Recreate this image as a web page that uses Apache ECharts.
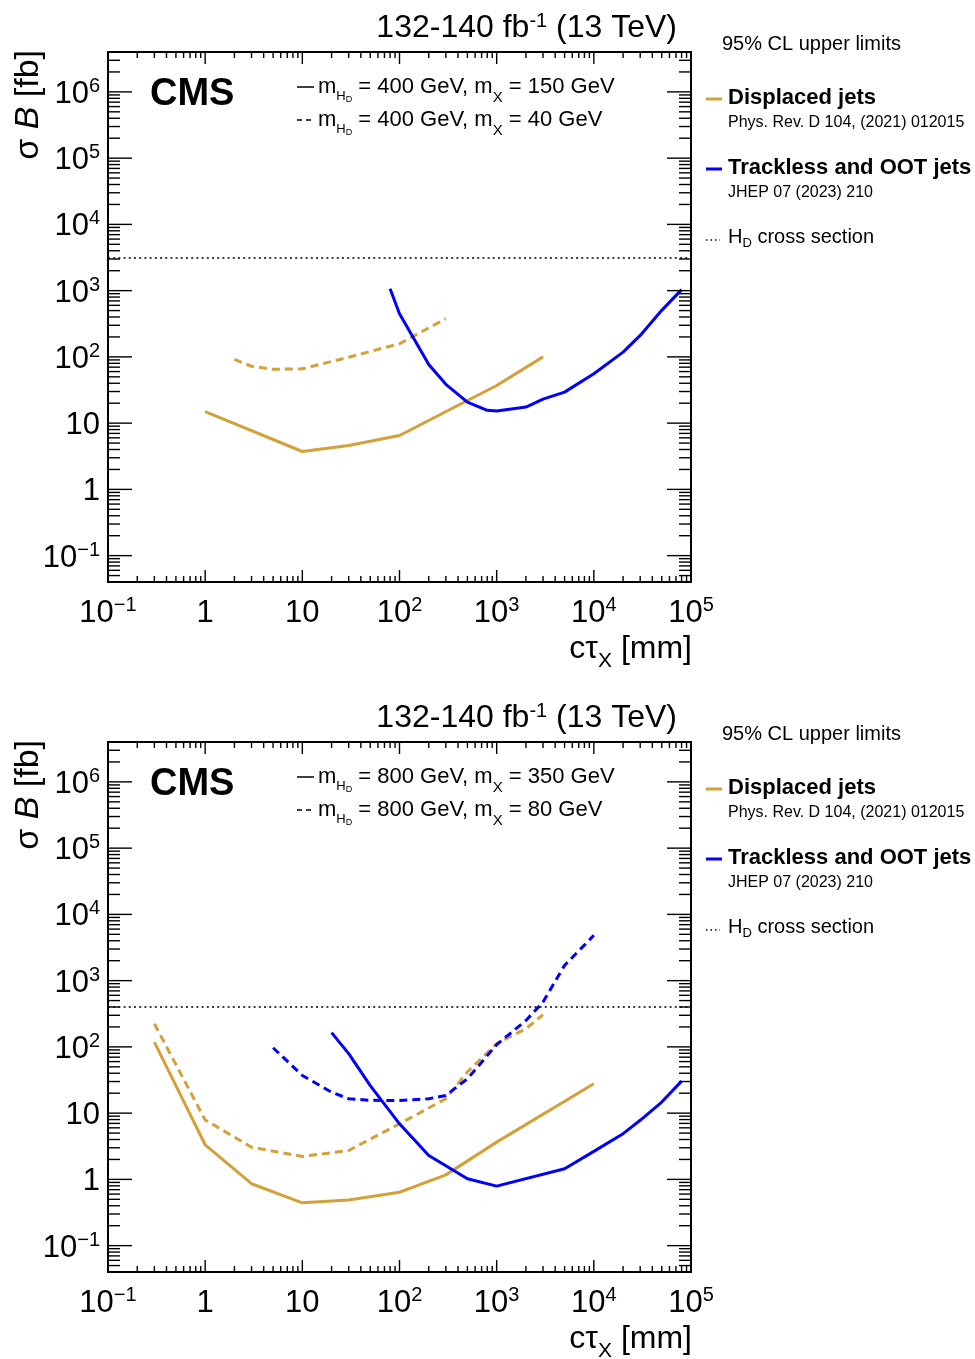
<!DOCTYPE html>
<html><head><meta charset="utf-8">
<script src="https://cdn.jsdelivr.net/npm/echarts@6/dist/echarts.min.js"></script>
<style>html,body{margin:0;padding:0;background:#fff}#c{width:975px;height:1359px}</style>
</head><body><div id="c"></div><script>
// ---------------- data ----------------
const xTickExps = [-1, 0, 1, 2, 3, 4, 5];
const xTickLabels = ['10^\u22121', '1', '10', '10^2', '10^3', '10^4', '10^5'];
const yTickExps = [-1, 0, 1, 2, 3, 4, 5, 6];
const yTickLabels = ['10^\u22121', '1', '10', '10^2', '10^3', '10^4', '10^5', '10^6'];
const xRange = [0.1, 1e5];
const yRange = [0.04, 4e6];

// Panel 1: m_HD = 400 GeV
const p1DispSolidX = [1, 10, 30, 100, 1000, 3000];
const p1DispSolidY = [14.9, 3.73, 4.6, 6.5, 37, 100];
const p1DispDashX = [2, 3, 5, 10, 30, 100, 300];
const p1DispDashY = [92, 72, 65, 66, 99, 158, 378];
const p1TrackSolidX = [80, 100, 200, 300, 500, 800, 1000, 2000, 3000, 5000, 10000, 20000, 30000, 50000, 80000];
const p1TrackSolidY = [1070, 449, 77, 38.5, 20.7, 15.6, 15.2, 17.5, 23, 29.4, 55.7, 118, 211, 504, 1035];
const p1Xsec = 3150;
const p1Text = ['400 GeV', '150 GeV', '40 GeV'];

// Panel 2: m_HD = 800 GeV
const p2DispSolidX = [0.3, 1, 3, 10, 30, 100, 300, 1000, 10000];
const p2DispSolidY = [118, 3.33, 0.86, 0.443, 0.49, 0.64, 1.17, 3.65, 27.8];
const p2DispDashX = [0.3, 1, 3, 10, 30, 100, 300, 500, 1000, 2000, 3000];
const p2DispDashY = [224, 7.9, 3.06, 2.22, 2.73, 6.9, 16.5, 42, 112, 188, 306];
const p2TrackSolidX = [20, 30, 50, 100, 200, 500, 1000, 5000, 10000, 20000, 30000, 50000, 80000];
const p2TrackSolidY = [164, 79, 26, 6.9, 2.3, 1.02, 0.79, 1.45, 2.65, 4.9, 7.8, 14.7, 30.4];
const p2TrackDashX = [5, 10, 20, 30, 50, 100, 200, 300, 500, 1000, 2000, 3000, 5000, 10000];
const p2TrackDashY = [97, 37, 20.7, 16.5, 15.6, 15.5, 16.5, 18.5, 33, 108, 250, 475, 1700, 4830];
const p2Xsec = 400;
const p2Text = ['800 GeV', '350 GeV', '80 GeV'];

// ---------------- styling / layout ----------------
const FONT = "'Liberation Sans', Arial, Helvetica, sans-serif";
const ORANGE = '#d4a03a';
const BLUE = '#0000ff';
const LW = 3;
const DASH = [8, 5];
const PANEL_DY = [0, 690];

function toRich(s) {
  const k = s.indexOf('^');
  return k < 0 ? '{b|' + s + '}' : '{b|' + s.slice(0, k) + '}{sup|' + s.slice(k + 1) + '}';
}
function logFmt(exps, labels) {
  return function (v) {
    const e = Math.log10(v), r = Math.round(e);
    if (Math.abs(e - r) > 1e-6) return '';
    const i = exps.indexOf(r);
    return i < 0 ? '' : toRich(labels[i]);
  };
}
const axisRich = {
  b: { fontSize: 31, lineHeight: 36, fontFamily: FONT, color: '#000' },
  sup: { fontSize: 20, lineHeight: 20, verticalAlign: 'top', padding: [0, 0, 0, 0], fontFamily: FONT, color: '#000' }
};

// tick positions (axis decoration)
function tickData() {
  const d = [];
  for (let e = -1; e <= 4; e++) for (let m = 1; m <= 9; m++) d.push([m * Math.pow(10, e), 1, 0, m === 1 ? 1 : 0]);
  d.push([1e5, 1, 0, 1]);
  for (let m = 4; m <= 9; m++) d.push([1, m * 1e-2, 1, 0]);
  for (let e = -1; e <= 5; e++) for (let m = 1; m <= 9; m++) d.push([1, m * Math.pow(10, e), 1, m === 1 ? 1 : 0]);
  for (let m = 1; m <= 4; m++) d.push([1, m * 1e6, 1, m === 1 ? 1 : 0]);
  return d;
}
function renderTicks(params, api) {
  const cs = params.coordSys;
  const kind = api.value(2), major = api.value(3);
  const p = api.coord([api.value(0), api.value(1)]);
  const st = { stroke: '#000', lineWidth: 1.4 };
  if (kind === 0) {
    const L = major ? 12 : 6, x = p[0];
    if (x < cs.x + 1 || x > cs.x + cs.width - 1) return null;
    return { type: 'group', children: [
      { type: 'line', shape: { x1: x, y1: cs.y + cs.height, x2: x, y2: cs.y + cs.height - L }, style: st },
      { type: 'line', shape: { x1: x, y1: cs.y, x2: x, y2: cs.y + L }, style: st }
    ] };
  } else {
    const L = major ? 24 : 12, y = p[1];
    if (y < cs.y + 1 || y > cs.y + cs.height - 1) return null;
    return { type: 'group', children: [
      { type: 'line', shape: { x1: cs.x, y1: y, x2: cs.x + L, y2: y }, style: st },
      { type: 'line', shape: { x1: cs.x + cs.width, y1: y, x2: cs.x + cs.width - L, y2: y }, style: st }
    ] };
  }
}

function lineSeries(gi, xs, ys, color, dashed) {
  return {
    type: 'line', xAxisIndex: gi, yAxisIndex: gi,
    data: xs.map((x, i) => [x, ys[i]]),
    showSymbol: false, symbol: 'none', silent: true, z: 3,
    lineStyle: { color: color, width: LW, type: dashed ? DASH : 'solid', cap: 'butt' }
  };
}

const grids = [], xAxes = [], yAxes = [], series = [], graphics = [];
const panels = [
  { lines: [[p1DispSolidX, p1DispSolidY, ORANGE, false], [p1DispDashX, p1DispDashY, ORANGE, true], [p1TrackSolidX, p1TrackSolidY, BLUE, false]], xsec: p1Xsec, txt: p1Text },
  { lines: [[p2DispSolidX, p2DispSolidY, ORANGE, false], [p2DispDashX, p2DispDashY, ORANGE, true], [p2TrackSolidX, p2TrackSolidY, BLUE, false], [p2TrackDashX, p2TrackDashY, BLUE, true]], xsec: p2Xsec, txt: p2Text }
];

const legRich = {
  n: { fontSize: 22, lineHeight: 36, fontFamily: FONT, fill: '#000' },
  h: { fontSize: 13, lineHeight: 13, verticalAlign: 'top', padding: [21, 0, 0, 0], fontFamily: FONT, fill: '#000' },
  d: { fontSize: 9, lineHeight: 9, verticalAlign: 'top', padding: [26, 0, 0, 0], fontFamily: FONT, fill: '#000' },
  x: { fontSize: 15, lineHeight: 15, verticalAlign: 'top', padding: [21, 0, 0, 0], fontFamily: FONT, fill: '#000' }
};
const titleRich = {
  n: { fontSize: 32, lineHeight: 40, fontFamily: FONT, fill: '#000' },
  s: { fontSize: 20, lineHeight: 20, verticalAlign: 'top', padding: [3, 0, 0, 0], fontFamily: FONT, fill: '#000' }
};
const xtRich = {
  n: { fontSize: 32, lineHeight: 48, fontFamily: FONT, fill: '#000' },
  s: { fontSize: 21, lineHeight: 21, verticalAlign: 'top', padding: [26, 0, 0, 0], fontFamily: FONT, fill: '#000' }
};
const ytRich = {
  n: { fontSize: 34, lineHeight: 40, fontFamily: FONT, fill: '#000' },
  i: { fontSize: 34, lineHeight: 40, fontStyle: 'italic', fontFamily: FONT, fill: '#000' }
};
const rlRich = {
  n: { fontSize: 20, lineHeight: 30, fontFamily: FONT, fill: '#000' },
  d: { fontSize: 13, lineHeight: 13, verticalAlign: 'top', padding: [15, 0, 0, 0], fontFamily: FONT, fill: '#000' }
};

function txt(x, y, text, opts) {
  return Object.assign({ type: 'text', x: x, y: y, silent: true, z: 10,
    style: Object.assign({ text: text, fontFamily: FONT, fill: '#000', textAlign: 'left', align: 'left', textVerticalAlign: 'middle', verticalAlign: 'middle' }, opts.style || {}) }, opts.el || {});
}
function seg(x1, y1, x2, y2, color, w, dash) {
  return { type: 'line', silent: true, z: 10, shape: { x1: x1, y1: y1, x2: x2, y2: y2 }, style: { stroke: color, lineWidth: w, lineDash: dash || null } };
}

panels.forEach((P, gi) => {
  const dy = PANEL_DY[gi];
  grids.push({ left: 108, top: 52 + dy, width: 583, height: 530, show: true, borderColor: '#000', borderWidth: 2, backgroundColor: 'transparent', containLabel: false });
  xAxes.push({ type: 'log', logBase: 10, gridIndex: gi, min: xRange[0], max: xRange[1], splitNumber: 10,
    axisLine: { show: false }, axisTick: { show: false }, splitLine: { show: false }, minorTick: { show: false },
    axisLabel: { show: true, margin: 13, formatter: logFmt(xTickExps, xTickLabels), rich: axisRich, showMinLabel: true, showMaxLabel: true, hideOverlap: false } });
  yAxes.push({ type: 'log', logBase: 10, gridIndex: gi, min: yRange[0], max: yRange[1], splitNumber: 10,
    axisLine: { show: false }, axisTick: { show: false }, splitLine: { show: false }, minorTick: { show: false },
    axisLabel: { show: true, margin: 8, padding: [5, 0, 0, 0], formatter: logFmt(yTickExps, yTickLabels), rich: axisRich, showMinLabel: true, showMaxLabel: true, hideOverlap: false } });
  P.lines.forEach(l => series.push(lineSeries(gi, l[0], l[1], l[2], l[3])));
  series.push({ type: 'line', xAxisIndex: gi, yAxisIndex: gi, data: [], silent: true,
    markLine: { silent: true, symbol: ['none', 'none'], label: { show: false }, animation: false,
      lineStyle: { color: '#000', width: 1.5, type: [2, 3.2] }, data: [{ yAxis: P.xsec }] } });
  series.push({ type: 'custom', xAxisIndex: gi, yAxisIndex: gi, data: tickData(), renderItem: renderTicks, silent: true, z: 4, encode: { x: 0, y: 1 } });

  // title
  graphics.push(txt(677, 28 + dy, '{n|132-140 fb}{s|-1}{n| (13 TeV)}', { style: { rich: titleRich, textAlign: 'right', align: 'right' } }));
  // CMS
  graphics.push(txt(150, 95 + dy, 'CMS', { style: { fontSize: 38, fontWeight: 'bold' } }));
  // in-plot legend
  graphics.push(seg(297, 87 + dy, 314, 87 + dy, '#000', 1.5));
  graphics.push(seg(297, 120 + dy, 314, 120 + dy, '#000', 1.5, [5, 4]));
  graphics.push(txt(318, 87 + dy, '{n|m}{h|H}{d|D}{n| = ' + P.txt[0] + ', m}{x|X}{n| = ' + P.txt[1] + '}', { style: { rich: legRich } }));
  graphics.push(txt(318, 120 + dy, '{n|m}{h|H}{d|D}{n| = ' + P.txt[0] + ', m}{x|X}{n| = ' + P.txt[2] + '}', { style: { rich: legRich } }));
  // axis titles
  graphics.push(txt(29, 50 + dy, '{n|\u03c3 }{i|B}{n| [fb]}', { style: { rich: ytRich, textAlign: 'right', align: 'right' }, el: { rotation: Math.PI / 2 } }));
  graphics.push(txt(692, 649 + dy, '{n|c\u03c4}{s|X}{n| [mm]}', { style: { rich: xtRich, textAlign: 'right', align: 'right' } }));
  // right legend
  graphics.push(txt(722, 44 + dy, '95% CL upper limits', { style: { fontSize: 20 } }));
  graphics.push(seg(706, 99 + dy, 722, 99 + dy, ORANGE, 3));
  graphics.push(txt(728, 98 + dy, 'Displaced jets', { style: { fontSize: 22, fontWeight: 'bold' } }));
  graphics.push(txt(728, 123 + dy, 'Phys. Rev. D 104, (2021) 012015', { style: { fontSize: 16 } }));
  graphics.push(seg(706, 169 + dy, 722, 169 + dy, BLUE, 3));
  graphics.push(txt(728, 168 + dy, 'Trackless and OOT jets', { style: { fontSize: 22, fontWeight: 'bold' } }));
  graphics.push(txt(728, 193 + dy, 'JHEP 07 (2023) 210', { style: { fontSize: 16 } }));
  graphics.push(seg(706, 240 + dy, 720, 240 + dy, '#000', 1.5, [1.5, 3]));
  graphics.push(txt(728, 237 + dy, '{n|H}{d|D}{n| cross section}', { style: { rich: rlRich } }));
});

const chart = echarts.init(document.getElementById('c'), null, { renderer: 'canvas' });
chart.setOption({
  animation: false,
  backgroundColor: '#fff',
  grid: grids, xAxis: xAxes, yAxis: yAxes, series: series, graphic: graphics
});
</script></body></html>
